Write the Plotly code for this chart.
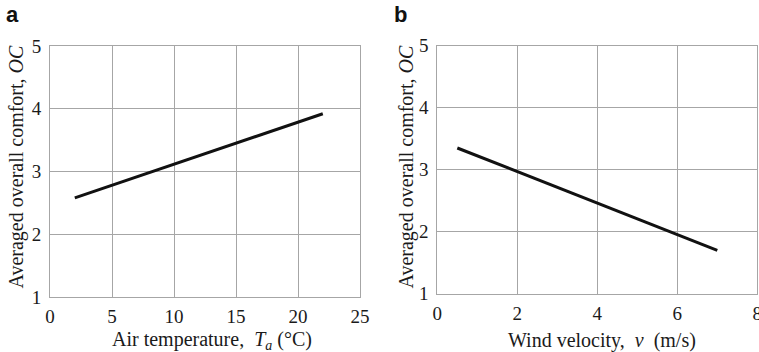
import plotly.graph_objects as go

# Panel a: air temperature vs averaged overall comfort
temp_x = [2, 22]
temp_oc = [2.58, 3.92]
temp_ticks = [0, 5, 10, 15, 20, 25]

# Panel b: wind velocity vs averaged overall comfort
wind_x = [0.5, 7.0]
wind_oc = [3.35, 1.70]
wind_ticks = [0, 2, 4, 6, 8]

oc_ticks = [1, 2, 3, 4, 5]

W, H = 759, 352
SERIF = "Liberation Serif, Times New Roman, serif"
GRID = "#a6a6a6"

fig = go.Figure()
fig.add_trace(go.Scatter(x=temp_x, y=temp_oc, mode="lines",
                         line=dict(color="#111111", width=3),
                         xaxis="x", yaxis="y", showlegend=False))
fig.add_trace(go.Scatter(x=wind_x, y=wind_oc, mode="lines",
                         line=dict(color="#111111", width=3),
                         xaxis="x2", yaxis="y2", showlegend=False))

def ax(**kw):
    d = dict(showgrid=True, gridcolor=GRID, gridwidth=1, zeroline=False,
             showline=True, linecolor=GRID, linewidth=1, mirror=True,
             ticks="", tickfont=dict(family=SERIF, size=19, color="#1a1a1a"),
             fixedrange=True, automargin=False, ticklabeloverflow="allow")
    d.update(kw)
    return d

fig.update_layout(
    template="none",
    width=W, height=H, margin=dict(l=0, r=0, t=0, b=0, pad=0),
    paper_bgcolor="white", plot_bgcolor="white",
    xaxis=ax(domain=[50 / W, 360 / W], range=[0, 25], tickvals=temp_ticks,
             anchor="y", ticklabelstandoff=2),
    yaxis=ax(domain=[1 - 297 / H, 1 - 46 / H], range=[1, 5], tickvals=oc_ticks,
             anchor="x", ticklabelstandoff=4),
    xaxis2=ax(domain=[437.3 / W, 757.3 / W], range=[0, 8], tickvals=wind_ticks,
              anchor="y2", ticklabelstandoff=2),
    yaxis2=ax(domain=[1 - 293.7 / H, 1 - 45.7 / H], range=[1, 5], tickvals=oc_ticks,
              anchor="x2", ticklabelstandoff=4),
)

tfont = dict(family=SERIF, size=20, color="#1a1a1a")
ytitle = "Averaged overall comfort, <i>OC</i>"
annots = [
    dict(text=ytitle, x=16 / W, y=1 - 166.5 / H, textangle=-90),
    dict(text=ytitle, x=406 / W, y=1 - 166.5 / H, textangle=-90),
    dict(text="Air temperature,\u00a0 <i>T<sub>a</sub></i> (°C)", x=212 / W, y=1 - 340 / H),
    dict(text="Wind velocity,\u00a0 <i>v</i>\u00a0 (m/s)", x=601.5 / W, y=1 - 340 / H),
]
for a in annots:
    fig.add_annotation(xref="paper", yref="paper", showarrow=False,
                       xanchor="center", yanchor="middle", font=tfont, **a)

lfont = dict(family="Liberation Sans, Arial, sans-serif", size=22, color="#111")
fig.add_annotation(text="<b>a</b>", x=4 / W, y=1 - 14 / H, xref="paper", yref="paper",
                   showarrow=False, xanchor="left", yanchor="middle", font=lfont)
fig.add_annotation(text="<b>b</b>", x=392 / W, y=1 - 14 / H, xref="paper", yref="paper",
                   showarrow=False, xanchor="left", yanchor="middle", font=lfont)

fig.write_html("out.html")
